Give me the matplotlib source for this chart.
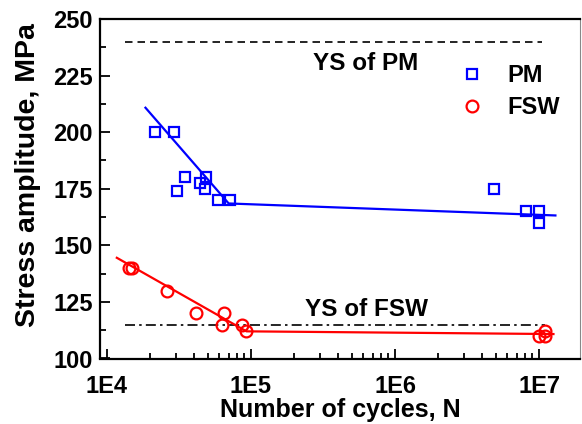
import numpy as np
import matplotlib
matplotlib.use("Agg")
import matplotlib.pyplot as plt
from matplotlib.ticker import FixedLocator, MultipleLocator, LogLocator, NullFormatter

plt.rcParams['font.family'] = ['Liberation Sans', 'DejaVu Sans']
plt.rcParams['font.weight'] = 'bold'

# PM data (cycles, stress amplitude MPa)
pm_n = [2.15e4, 2.9e4, 3.05e4, 3.5e4, 4.4e4, 4.9e4, 4.8e4, 5.9e4, 7.1e4, 4.9e6, 8.1e6, 1.0e7, 1.0e7]
pm_s = [200, 200, 174, 180, 177.5, 180, 175, 170, 170, 175, 165, 165, 160]

# FSW data
fsw_n = [1.43e4, 1.48e4, 2.62e4, 4.15e4, 6.45e4, 6.3e4, 8.6e4, 9.2e4, 1.0e7, 1.1e7, 1.1e7]
fsw_s = [140, 140, 130, 120, 120, 115, 115, 112, 110, 112, 110]

# bilinear fit lines
pm_fit_n = [1.85e4, 7.0e4, 1.3e7]
pm_fit_s = [210.8, 168.5, 163.2]
fsw_fit_n = [1.17e4, 9.3e4, 1.26e7]
fsw_fit_s = [144.5, 112.0, 110.8]

# yield strengths
ys_pm = 240
ys_fsw = 115
ys_n = [1.33e4, 1.05e7]

fig = plt.figure(figsize=(5.82, 4.24), dpi=100)
ax = fig.add_axes([100/582, 1 - 358.5/424, 480/582, 339.5/424])

ax.plot(ys_n, [ys_pm, ys_pm], color='black', lw=1.2, dashes=(4.5, 3))
ax.plot([ys_n[0], 1.1e7], [ys_fsw, ys_fsw], color='black', lw=1.2, dashes=(6, 2.5, 1.5, 2.5))

ax.plot(pm_fit_n, pm_fit_s, color='blue', lw=1.6)
ax.plot(fsw_fit_n, fsw_fit_s, color='red', lw=1.6)

ax.plot(pm_n, pm_s, ls='none', marker='s', ms=7.2, mfc='none', mec='blue', mew=1.6, label='PM')
ax.plot(fsw_n, fsw_s, ls='none', marker='o', ms=8.5, mfc='none', mec='red', mew=1.6, label='FSW')

ax.set_xscale('log')
ax.set_xlim(10**3.9514, 10**7.2847)
ax.set_ylim(100, 250)

ax.xaxis.set_major_locator(FixedLocator([1e4, 1e5, 1e6, 1e7]))
ax.set_xticklabels(['1E4', '1E5', '1E6', '1E7'])
ax.xaxis.set_minor_locator(LogLocator(base=10, subs=np.arange(2, 10)))
ax.xaxis.set_minor_formatter(NullFormatter())
ax.yaxis.set_major_locator(MultipleLocator(25))
ax.yaxis.set_minor_locator(MultipleLocator(12.5))

ax.tick_params(which='both', direction='in', width=1.3, labelsize=17, top=False, right=False)
ax.tick_params(which='major', length=7)
ax.tick_params(which='minor', length=4)
ax.tick_params(axis='x', pad=12)
ax.tick_params(axis='y', pad=5)

for side in ['left', 'bottom', 'top']:
    ax.spines[side].set_linewidth(1.6)
ax.spines['right'].set_linewidth(0.8)
ax.spines['right'].set_color('#888888')

ax.set_xlabel('Number of cycles, N', fontsize=18, fontweight='bold')
ax.set_ylabel('Stress amplitude, MPa', fontsize=20.5, fontweight='bold')
ax.xaxis.set_label_coords(0.5, -0.116)
ax.yaxis.set_label_coords(-0.123, 0.539)

ax.text(0.444, 0.869, 'YS of PM', transform=ax.transAxes, fontsize=17.5,
        fontweight='bold', va='center', ha='left')
ax.text(0.427, 0.144, 'YS of FSW', transform=ax.transAxes, fontsize=17.5,
        fontweight='bold', va='center', ha='left')

leg = ax.legend(loc='upper left', bbox_to_anchor=(0.75, 0.868), frameon=False,
                fontsize=17, handlelength=1.0, handletextpad=1.0, labelspacing=0.38,
                borderpad=0, borderaxespad=0, numpoints=1)
for t in leg.get_texts():
    t.set_fontweight('bold')

fig.savefig('out.png', dpi=100)
